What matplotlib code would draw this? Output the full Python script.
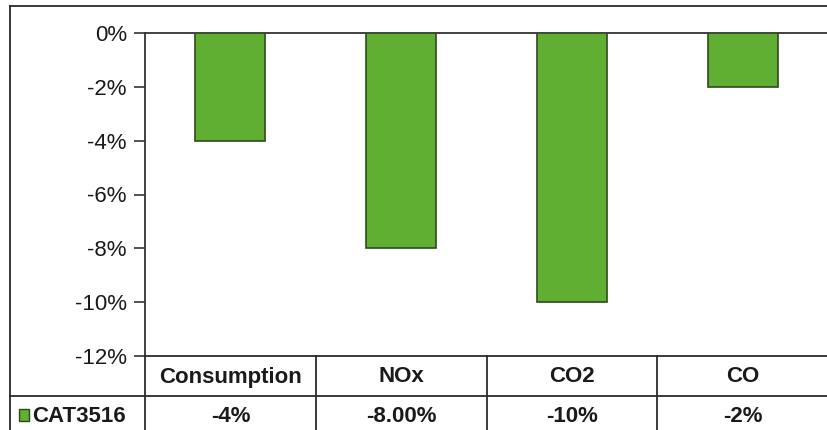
import matplotlib
matplotlib.use("Agg")
import matplotlib.pyplot as plt
from matplotlib.lines import Line2D
from matplotlib.patches import Rectangle
from matplotlib.ticker import FuncFormatter, MultipleLocator

categories = ["Consumption", "NOx", "CO2", "CO"]
values = [-4, -8, -10, -2]
value_labels = ["-4%", "-8.00%", "-10%", "-2%"]
series_name = "CAT3516"

plt.rcParams["font.family"] = ["Liberation Sans", "DejaVu Sans"]

W, H = 827, 430
fig = plt.figure(figsize=(W / 100, H / 100), dpi=100)
fig.patch.set_facecolor("white")

def fx(px):
    return px / W

def fy(py):
    return 1 - py / H

x_left, x_right = 145, 828
y_top, y_bot = 33, 356
ax = fig.add_axes([fx(x_left), fy(y_bot), fx(x_right - x_left), fy(y_top) - fy(y_bot)])

bar_color = "#60AE32"
edge_color = "#2E4A1C"
x = list(range(len(categories)))
ax.bar(x, values, width=0.41, color=bar_color, edgecolor=edge_color, linewidth=1.2, zorder=3)

ax.set_xlim(-0.5, len(categories) - 0.5)
ax.set_ylim(-12, 0)
ax.yaxis.set_major_locator(MultipleLocator(2))
ax.yaxis.set_major_formatter(FuncFormatter(lambda v, _: f"{v:.0f}%"))
ax.tick_params(axis="y", direction="out", length=8, width=1.2, color="#333333",
               labelsize=16, pad=5, labelcolor="#1a1a1a")
ax.set_xticks([])
for side in ("right", "bottom"):
    ax.spines[side].set_visible(False)
ax.spines["left"].set_color("#333333")
ax.spines["left"].set_linewidth(1.3)
ax.spines["top"].set_color("#333333")
ax.spines["top"].set_linewidth(1.3)

line_kw = dict(color="#2a2a2a", linewidth=1.3, transform=fig.transFigure)

# outer chart border
fig.add_artist(Line2D([fx(10), fx(830)], [fy(6), fy(6)], **line_kw))
fig.add_artist(Line2D([fx(10), fx(10)], [fy(6), fy(432)], **line_kw))

# data table grid
row1_bot = 396
fig.add_artist(Line2D([fx(x_left), fx(830)], [fy(y_bot), fy(y_bot)], **line_kw))
fig.add_artist(Line2D([fx(10), fx(830)], [fy(row1_bot), fy(row1_bot)], **line_kw))
col_w = (x_right - x_left) / len(categories)
for i in range(len(categories)):
    cx = x_left + i * col_w
    fig.add_artist(Line2D([fx(cx), fx(cx)], [fy(y_bot), fy(432)], **line_kw))

text_kw = dict(fontsize=16, fontweight="bold", color="#1a1a1a",
               ha="center", va="center", transform=fig.transFigure)
for i, (cat, lab) in enumerate(zip(categories, value_labels)):
    cx = x_left + (i + 0.5) * col_w
    fig.text(fx(cx), fy(377), cat, **text_kw)
    fig.text(fx(cx), fy(416), lab, **text_kw)

# legend key in the table row header
fig.add_artist(Rectangle((fx(19), fy(421)), fx(10), fy(409) - fy(421),
                         facecolor=bar_color, edgecolor=edge_color, linewidth=1.0,
                         transform=fig.transFigure))
fig.text(fx(32), fy(416), series_name, fontsize=16, fontweight="bold", color="#1a1a1a",
         ha="left", va="center", transform=fig.transFigure)

fig.savefig("out.png", dpi=100)
